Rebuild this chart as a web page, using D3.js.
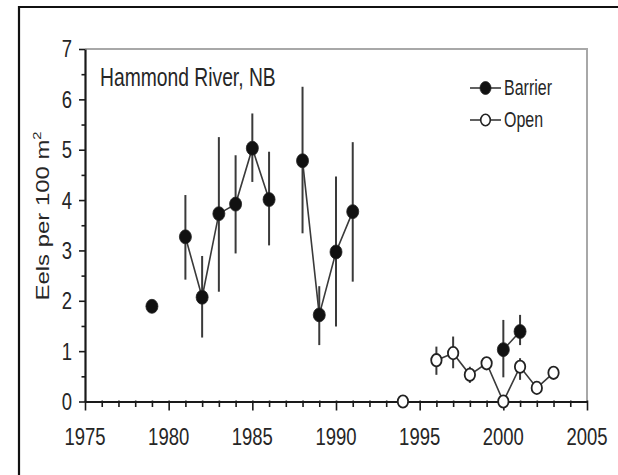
<!DOCTYPE html>
<html>
<head>
<meta charset="utf-8">
<script src="https://cdn.jsdelivr.net/npm/d3@7"></script>
<style>
  html, body { margin: 0; padding: 0; background: #fff; }
  svg { display: block; }
  text { font-family: "Liberation Sans", Arial, sans-serif; fill: #262626; }
</style>
</head>
<body>
<svg id="chart" width="618" height="475"></svg>
<script>
// ---- Data ----
const barrierYears = [1979, 1981, 1982, 1983, 1984, 1985, 1986, 1988, 1989, 1990, 1991, 2000, 2001];
const barrierMean  = [1.89, 3.27, 2.07, 3.73, 3.92, 5.03, 4.01, 4.78, 1.72, 2.97, 3.77, 1.03, 1.39];
const barrierLow   = [null, 2.42, 1.27, 2.18, 2.94, 4.36, 3.10, 3.34, 1.12, 1.49, 2.38, 0.48, 1.12];
const barrierHigh  = [null, 4.10, 2.89, 5.25, 4.89, 5.72, 4.96, 6.25, 2.29, 4.47, 5.15, 1.62, 1.72];

const openYears = [1994, 1996, 1997, 1998, 1999, 2000, 2001, 2002, 2003];
const openMean  = [0.00, 0.82, 0.96, 0.53, 0.76, 0.00, 0.69, 0.27, 0.57];
const openLow   = [null, 0.53, 0.66, 0.37, 0.62, null, 0.43, null, null];
const openHigh  = [null, 1.09, 1.29, 0.69, 0.86, null, 0.86, null, null];

const xTickLabels = [1975, 1980, 1985, 1990, 1995, 2000, 2005];
const yTickLabels = [0, 1, 2, 3, 4, 5, 6, 7];
const chartTitle = "Hammond River, NB";
const seriesNames = ["Barrier", "Open"];

// ---- Layout ----
const svg = d3.select("#chart");
const SY = 1.33; // vertical stretch of the reference image
const x = d3.scaleLinear().domain([1975, 2005]).range([85, 587]);
const y = d3.scaleLinear().domain([0, 7]).range([401.5, 49]);

// outer frame (left & top visible)
svg.append("path").attr("d", "M19,475 L19,7 L618,7")
  .attr("fill", "none").attr("stroke", "#111").attr("stroke-width", 2.2);

// plot box top & right (gray)
svg.append("path")
  .attr("d", `M${x(1975)},${y(7)} L${x(2005)},${y(7)} L${x(2005)},${y(0)}`)
  .attr("fill", "none").attr("stroke", "#a8a8a8").attr("stroke-width", 2);

// x axis
const xAxis = d3.axisBottom(x)
  .tickValues(d3.range(1975, 2006, 1))
  .tickFormat("")
  .tickSizeOuter(0);
const gx = svg.append("g").attr("transform", `translate(0,${y(0)})`).call(xAxis);
gx.select(".domain").attr("stroke", "#1a1a1a").attr("stroke-width", 2.2);
gx.selectAll(".tick line")
  .attr("stroke", "#1a1a1a").attr("stroke-width", 1.6)
  .attr("y1", -1)
  .attr("y2", d => d % 5 === 0 ? 9 : 5.5);

// y axis
const yAxis = d3.axisLeft(y)
  .tickValues(d3.range(0, 7.01, 0.5))
  .tickFormat("")
  .tickSizeOuter(0);
const gy = svg.append("g").attr("transform", `translate(${x(1975)},0)`).call(yAxis);
gy.select(".domain").attr("stroke", "#1a1a1a").attr("stroke-width", 2.2);
gy.selectAll(".tick line")
  .attr("stroke", "#1a1a1a").attr("stroke-width", 1.6)
  .attr("x2", d => Number.isInteger(d) ? -6 : -3.5);

// stretched text helper
function stext(px, py, str, size, anchor, rot) {
  const g = svg.append("g")
    .attr("transform", `translate(${px},${py}) scale(1,${SY})` + (rot ? ` rotate(${rot})` : ""));
  return g.append("text")
    .attr("text-anchor", anchor)
    .attr("dominant-baseline", "central")
    .style("font-size", size + "px")
    .text(str);
}

// tick labels
xTickLabels.forEach(v => stext(x(v), 437, v, 18.5, "middle"));
yTickLabels.forEach(v => stext(72, y(v), v, 18.5, "end"));

// y axis title
const yt = stext(43, 216, "Eels per 100 m", 18, "middle", -90);
yt.append("tspan").attr("dy", "-0.55em").style("font-size", "11px").text("2");

// chart title
stext(100, 77, chartTitle, 19.3, "start");

// ---- series ----
function buildSeries(years, mean, low, high) {
  return years.map((yr, i) => ({ year: yr, v: mean[i], lo: low[i], hi: high[i] }));
}
const barrier = buildSeries(barrierYears, barrierMean, barrierLow, barrierHigh);
const open = buildSeries(openYears, openMean, openLow, openHigh);

// split into runs of consecutive years
function runs(data) {
  const out = [];
  let cur = [];
  data.forEach((d, i) => {
    if (i > 0 && d.year - data[i - 1].year > 1) { out.push(cur); cur = []; }
    cur.push(d);
  });
  out.push(cur);
  return out.filter(r => r.length > 1);
}

const line = d3.line().x(d => x(d.year)).y(d => y(d.v));
const lineColor = "#3a3a3a";

function drawErrors(data) {
  svg.append("g").selectAll("line")
    .data(data.filter(d => d.lo != null))
    .join("line")
    .attr("x1", d => x(d.year)).attr("x2", d => x(d.year))
    .attr("y1", d => y(d.lo)).attr("y2", d => y(d.hi))
    .attr("stroke", "#3a3a3a").attr("stroke-width", 2);
}
function drawLines(data) {
  svg.append("g").selectAll("path")
    .data(runs(data))
    .join("path")
    .attr("d", line)
    .attr("fill", "none").attr("stroke", lineColor).attr("stroke-width", 1.6);
}
function drawMarkers(data, filled) {
  svg.append("g").selectAll("ellipse")
    .data(data)
    .join("ellipse")
    .attr("cx", d => x(d.year)).attr("cy", d => y(d.v))
    .attr("rx", filled ? 6 : 5.2).attr("ry", filled ? 7 : 6.2)
    .attr("fill", filled ? "#111" : "#fff")
    .attr("stroke", "#222").attr("stroke-width", filled ? 0.8 : 1.8);
}

drawErrors(barrier);
drawErrors(open);
drawLines(barrier);
drawLines(open);
drawMarkers(open, false);
drawMarkers(barrier, true);

// ---- legend ----
const legendY = [88, 120];
seriesNames.forEach((name, i) => {
  const ly = legendY[i];
  svg.append("line").attr("x1", 470).attr("x2", 501).attr("y1", ly).attr("y2", ly)
    .attr("stroke", lineColor).attr("stroke-width", 1.6);
  svg.append("ellipse").attr("cx", 485.5).attr("cy", ly)
    .attr("rx", i === 0 ? 5.5 : 4.8).attr("ry", i === 0 ? 6.5 : 5.8)
    .attr("fill", i === 0 ? "#111" : "#fff")
    .attr("stroke", "#222").attr("stroke-width", i === 0 ? 0.8 : 1.6);
  stext(504, ly, name, 16, "start");
});
</script>
</body>
</html>
